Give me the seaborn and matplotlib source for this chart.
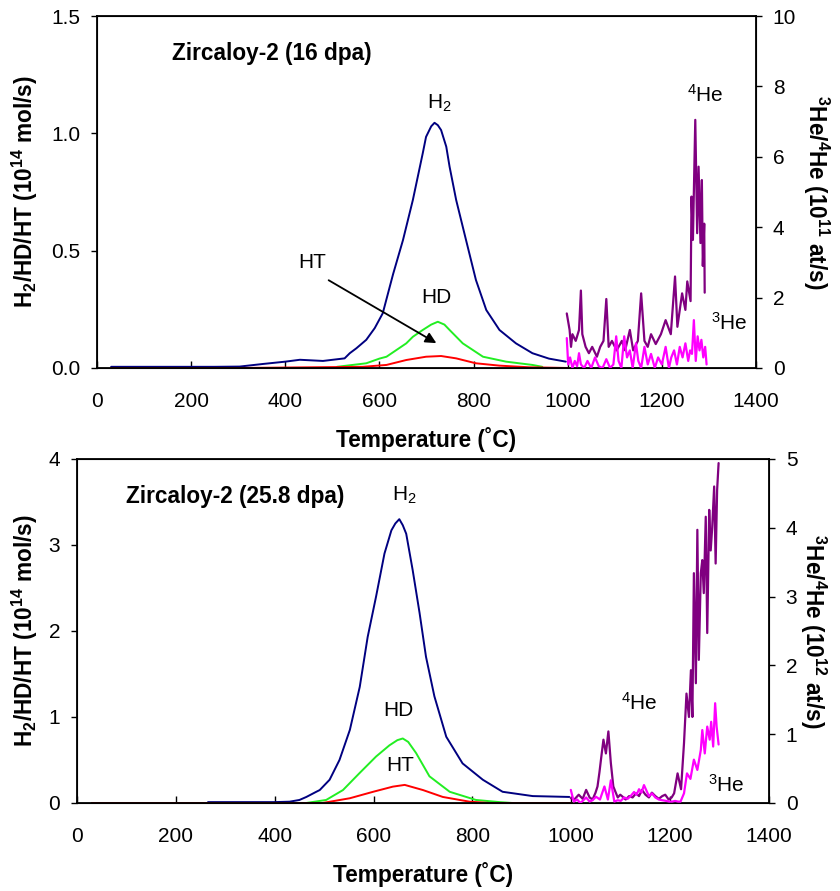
import matplotlib
matplotlib.use("Agg")
import matplotlib.pyplot as plt
import seaborn as sns

# DATA
# top panel : Zircaloy-2 (16 dpa)
t_h2_16 = [30, 100, 200, 250, 303, 352, 400, 431, 480, 526, 537, 551, 572, 590, 607, 629, 650, 671, 692, 699,
           710, 717, 724, 731, 742, 749, 763, 784, 805, 827, 855, 890, 925, 960, 996]
h2_16 = [0.005, 0.005, 0.005, 0.005, 0.006, 0.017, 0.027, 0.035, 0.03, 0.041, 0.063, 0.084, 0.12, 0.17, 0.233,
         0.40, 0.545, 0.716, 0.915, 0.985, 1.03, 1.045, 1.035, 1.014, 0.943, 0.858, 0.716, 0.545, 0.375, 0.247,
         0.162, 0.105, 0.063, 0.04, 0.027]
t_hd_16 = [510, 572, 600, 615, 657, 671, 692, 710, 724, 738, 749, 777, 820, 869, 925, 946]
hd_16 = [0.005, 0.02, 0.04, 0.048, 0.105, 0.133, 0.162, 0.185, 0.197, 0.185, 0.162, 0.105, 0.048, 0.027, 0.013,
         0.005]
t_ht_16 = [30, 300, 565, 615, 657, 699, 731, 763, 805, 855, 918, 1000]
ht_16 = [0.0, 0.0, 0.005, 0.013, 0.034, 0.048, 0.051, 0.041, 0.02, 0.01, 0.003, 0.0]
t_he4_16 = [998, 1004, 1007, 1010, 1017, 1024, 1028, 1031, 1038, 1045, 1052, 1062, 1069, 1076, 1082, 1087,
            1094, 1104, 1115, 1122, 1132, 1139, 1149, 1156, 1163, 1170, 1177, 1187, 1198, 1208, 1219, 1228,
            1233, 1243, 1250, 1254, 1261, 1263, 1266, 1271, 1275, 1278, 1282, 1285, 1287, 1290, 1291]
he4_16 = [1.55, 1.08, 0.6, 0.96, 0.77, 1.08, 2.2, 0.96, 0.6, 0.42, 0.6, 0.32, 0.6, 0.77, 1.96, 0.6,
          0.77, 0.5, 0.77, 0.5, 1.08, 0.5, 0.77, 2.12, 0.77, 0.6, 0.96, 0.68, 0.96, 1.36, 0.96, 2.6,
          1.17, 2.12, 1.65, 2.46, 1.9, 4.87, 3.64, 7.05, 3.83, 5.72, 3.55, 5.34, 2.9, 4.1, 2.14]
t_he3_16 = [998, 1001, 1005, 1010, 1015, 1020, 1024, 1028, 1035, 1042, 1050, 1058, 1066, 1074, 1082, 1090,
            1097, 1103, 1108, 1114, 1120, 1126, 1132, 1138, 1145, 1150, 1156, 1163, 1170, 1177, 1185, 1192,
            1200, 1208, 1215, 1220, 1226, 1232, 1238, 1244, 1250, 1256, 1260, 1264, 1268, 1272, 1276, 1280,
            1284, 1288, 1292, 1295]
he3_16 = [0.85, 0.1, 0.3, 0.0, 0.2, 0.05, 0.42, 0.1, 0.0, 0.2, 0.0, 0.3, 0.05, 0.0, 0.25, 0.0,
          0.1, 0.9, 0.2, 0.0, 0.9, 0.3, 0.5, 0.0, 0.7, 0.2, 0.0, 0.6, 0.1, 0.4, 0.0, 0.3,
          0.1, 0.6, 0.0, 0.3, 0.5, 0.1, 0.6, 0.3, 0.7, 0.2, 0.5, 0.4, 1.36, 0.2, 0.9, 0.5,
          0.8, 0.3, 0.6, 0.1]

# bottom panel : Zircaloy-2 (25.8 dpa)
t_h2_26 = [265, 300, 350, 400, 430, 450, 464, 484, 491, 511, 531, 552, 572, 588, 605, 622, 636, 644, 652, 659,
           666, 679, 693, 706, 723, 747, 780, 821, 861, 922, 960, 996]
h2_26 = [0.01, 0.01, 0.01, 0.01, 0.015, 0.035, 0.07, 0.13, 0.15, 0.27, 0.5, 0.85, 1.35, 1.93, 2.40, 2.90,
         3.17, 3.25, 3.30, 3.23, 3.13, 2.71, 2.21, 1.70, 1.24, 0.77, 0.46, 0.27, 0.13, 0.08, 0.075, 0.07]
t_hd_26 = [30, 464, 504, 538, 572, 605, 632, 648, 659, 670, 686, 713, 754, 807, 855, 880]
hd_26 = [0.0, 0.0, 0.035, 0.15, 0.35, 0.54, 0.67, 0.73, 0.75, 0.71, 0.58, 0.31, 0.13, 0.035, 0.01, 0.0]
t_ht_26 = [30, 497, 552, 599, 639, 663, 700, 740, 794, 834, 1000]
ht_26 = [0.0, 0.0, 0.055, 0.13, 0.19, 0.21, 0.15, 0.07, 0.015, 0.0, 0.0]
t_he4_26 = [999, 1006, 1015, 1023, 1030, 1037, 1043, 1049, 1053, 1057, 1060, 1065, 1070, 1075, 1080, 1085,
            1090, 1094, 1099, 1104, 1110, 1117, 1124, 1131, 1137, 1143, 1150, 1157, 1163, 1170, 1177, 1184,
            1190, 1197, 1203, 1208, 1215, 1222, 1228, 1233, 1238, 1242, 1245, 1248, 1252, 1255, 1258, 1262,
            1265, 1268, 1272, 1275, 1279, 1282, 1285, 1289, 1292, 1295, 1298]
he4_26 = [0.07, 0.05, 0.12, 0.06, 0.19, 0.08, 0.05, 0.15, 0.24, 0.45, 0.63, 0.92, 0.72, 1.04, 0.58, 0.24,
          0.15, 0.08, 0.12, 0.09, 0.05, 0.1, 0.08, 0.14, 0.1, 0.19, 0.12, 0.08, 0.15, 0.1, 0.06, 0.1,
          0.12, 0.05, 0.08, 0.14, 0.43, 0.2, 0.87, 1.59, 1.25, 1.93, 1.25, 3.34, 1.74, 3.97, 2.08, 3.34,
          3.53, 3.05, 4.16, 2.47, 4.26, 3.67, 4.0, 4.6, 3.48, 4.55, 4.94]
t_he3_26 = [999, 1005, 1012, 1018, 1023, 1030, 1037, 1043, 1050, 1058, 1067, 1074, 1080, 1087, 1094, 1100,
            1107, 1114, 1120, 1127, 1132, 1137, 1142, 1147, 1152, 1157, 1163, 1170, 1177, 1184, 1192, 1198,
            1204, 1210, 1216, 1221, 1228, 1234, 1241, 1248, 1255, 1262, 1265, 1270, 1275, 1280, 1283, 1287,
            1291, 1294, 1298]
he3_26 = [0.19, 0.02, 0.05, 0.0, 0.03, 0.08, 0.02, 0.04, 0.09, 0.05, 0.24, 0.05, 0.33, 0.02, 0.04, 0.03,
          0.08, 0.06, 0.1, 0.16, 0.12, 0.2, 0.15, 0.26, 0.18, 0.1, 0.14, 0.08, 0.05, 0.04, 0.03, 0.02,
          0.02, 0.03, 0.02, 0.02, 0.14, 0.43, 0.35, 0.63, 0.48, 0.77, 1.06, 0.72, 1.11, 0.92, 1.18, 0.82,
          1.45, 1.11, 0.85]

C_H2, C_HD, C_HT = "#000080", "#22EE22", "#FF0000"
C_HE4, C_HE3 = "#800080", "#FF00FF"

# STYLE
sns.set_style("ticks")
plt.rcParams["font.family"] = ["Liberation Sans", "DejaVu Sans"]
plt.rcParams["mathtext.fontset"] = "custom"
plt.rcParams["mathtext.rm"] = "Liberation Sans"
plt.rcParams["mathtext.it"] = "Liberation Sans:italic"
plt.rcParams["mathtext.bf"] = "Liberation Sans:bold"
plt.rcParams["mathtext.default"] = "rm"
for key in ["text.color", "axes.labelcolor", "xtick.color", "ytick.color", "axes.edgecolor"]:
    plt.rcParams[key] = "black"
FS = 15
FSB = 16.3

fig = plt.figure(figsize=(8.4, 8.91), dpi=100)


def style_axes(ax, ax2):
    for sp in ax.spines.values():
        sp.set_linewidth(1.3)
        sp.set_color("black")
    ax.set_xlim(0, 1400)
    ax.set_xticks(range(0, 1401, 200))
    ax.tick_params(axis="x", direction="in", length=5, width=1, pad=17.5, labelsize=FS)
    ax.tick_params(axis="y", direction="out", length=4, width=1, pad=8, labelsize=FS)
    ax2.tick_params(axis="y", direction="out", length=4, width=1, pad=8, labelsize=FS)
    ax.set_xlabel("Temperature (˚C)", fontsize=FSB, fontweight="bold", labelpad=11)


# TOP PANEL
ax = fig.add_axes([0.1155, 0.587, 0.7845, 0.395])
ax2 = ax.twinx()
sns.lineplot(x=t_h2_16, y=h2_16, ax=ax, color=C_H2, linewidth=1.4)
sns.lineplot(x=t_hd_16, y=hd_16, ax=ax, color=C_HD, linewidth=1.4)
sns.lineplot(x=t_ht_16, y=ht_16, ax=ax, color=C_HT, linewidth=1.4)
sns.lineplot(x=t_he4_16, y=he4_16, ax=ax2, color=C_HE4, linewidth=1.6)
sns.lineplot(x=t_he3_16, y=he3_16, ax=ax2, color=C_HE3, linewidth=1.6)
ax.set_ylim(0, 1.5)
ax.set_yticks([0, 0.5, 1.0, 1.5])
ax.set_yticklabels(["0.0", "0.5", "1.0", "1.5"])
ax2.set_ylim(0, 10)
ax2.set_yticks([0, 2, 4, 6, 8, 10])
style_axes(ax, ax2)
ax.set_ylabel(r"H$_{\mathbf{2}}$/HD/HT (10$^{\mathbf{14}}$ mol/s)", fontsize=FSB, fontweight="bold", labelpad=8)
ax2.set_ylabel(r"$^{\mathbf{3}}$He/$^{\mathbf{4}}$He (10$^{\mathbf{11}}$ at/s)", fontsize=FSB, fontweight="bold",
               rotation=270, labelpad=25)
ax.text(159, 1.34, "Zircaloy-2 (16 dpa)", fontsize=FSB, fontweight="bold", va="center")
ax.text(728, 1.13, r"H$_2$", fontsize=FS, ha="center", va="center")
ax.text(720, 0.30, "HD", fontsize=FS, ha="center", va="center")
ax.text(458, 0.45, "HT", fontsize=FS, ha="center", va="center")
ax.annotate("", xy=(726, 0.1), xytext=(487, 0.38),
            arrowprops=dict(arrowstyle="-|>", color="black", lw=1.3, mutation_scale=16))
ax2.text(1292, 7.76, r"$^4$He", fontsize=FS, ha="center", va="center")
ax2.text(1343, 1.28, r"$^3$He", fontsize=FS, ha="center", va="center")

# BOTTOM PANEL
bx = fig.add_axes([0.0917, 0.0988, 0.8238, 0.3861])
bx2 = bx.twinx()
sns.lineplot(x=t_h2_26, y=h2_26, ax=bx, color=C_H2, linewidth=1.4)
sns.lineplot(x=t_hd_26, y=hd_26, ax=bx, color=C_HD, linewidth=1.4)
sns.lineplot(x=t_ht_26, y=ht_26, ax=bx, color=C_HT, linewidth=1.4)
sns.lineplot(x=t_he4_26, y=he4_26, ax=bx2, color=C_HE4, linewidth=1.6)
sns.lineplot(x=t_he3_26, y=he3_26, ax=bx2, color=C_HE3, linewidth=1.6)
bx.set_ylim(0, 4)
bx.set_yticks([0, 1, 2, 3, 4])
bx2.set_ylim(0, 5)
bx2.set_yticks([0, 1, 2, 3, 4, 5])
style_axes(bx, bx2)
bx.set_ylabel(r"H$_{\mathbf{2}}$/HD/HT (10$^{\mathbf{14}}$ mol/s)", fontsize=FSB, fontweight="bold", labelpad=6)
bx2.set_ylabel(r"$^{\mathbf{3}}$He/$^{\mathbf{4}}$He (10$^{\mathbf{12}}$ at/s)", fontsize=FSB, fontweight="bold",
               rotation=270, labelpad=22)
bx.text(99, 3.56, "Zircaloy-2 (25.8 dpa)", fontsize=FSB, fontweight="bold", va="center")
bx.text(663, 3.58, r"H$_2$", fontsize=FS, ha="center", va="center")
bx.text(651, 1.08, "HD", fontsize=FS, ha="center", va="center")
bx.text(653, 0.44, "HT", fontsize=FS, ha="center", va="center")
bx2.text(1137, 1.45, r"$^4$He", fontsize=FS, ha="center", va="center")
bx2.text(1313, 0.26, r"$^3$He", fontsize=FS, ha="center", va="center")

fig.savefig("out.png", dpi=100)
